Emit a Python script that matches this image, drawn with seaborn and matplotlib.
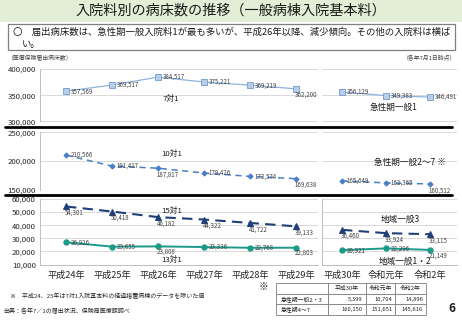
import numpy as np
import pandas as pd
import matplotlib
matplotlib.use("Agg")
import matplotlib.pyplot as plt
import seaborn as sns
from matplotlib.patches import Rectangle
from matplotlib.lines import Line2D

sns.set_theme(style="white")
plt.rcParams['font.family'] = ['Noto Sans CJK JP', 'DejaVu Sans']

# ---------------- data ----------------
years = ["平成24年", "平成25年", "平成26年", "平成27年", "平成28年", "平成29年",
         "平成30年", "令和元年", "令和2年"]
acute1 = [357569, 369517, 384517, 375221, 369219, 362200, 356129, 349383, 346491]
acute27 = [210566, 191417, 187817, 179426, 173574, 169638, 165649, 162365, 160512]
region3 = [54301, 50418, 46182, 44322, 41722, 39133, 36460, 33924, 33115]
region12 = [26926, 23655, 23808, 23336, 22768, 22803, 20921, 22296, 21149]
split = 6  # H24-H29 (old names) | H30-R2 (new names)

top_ticks = [300000, 350000, 400000]
mid_ticks = [150000, 200000, 250000]
bot_ticks = [10000, 20000, 30000, 40000, 50000, 60000]

table_cols = ["", "平成30年", "令和元年", "令和2年"]
table_rows = ["急性期一般2・3", "急性期4～7"]
table_vals = [[5399, 10704, 14896], [160150, 151651, 145616]]

# ---------------- layout helpers ----------------
W, H = 462, 320
fig = plt.figure(figsize=(W / 100, H / 100), dpi=100)


def fbox(x0, y0, x1, y1):
    return [x0 / W, 1 - y1 / H, (x1 - x0) / W, (y1 - y0) / H]


def fx(x):
    return x / W


def fy(y):
    return 1 - y / H


# banner
fig.add_artist(Rectangle((0, fy(22)), 1, 22 / H, transform=fig.transFigure,
                         facecolor="#E2EED6", edgecolor="none", zorder=0))
fig.text(fx(231), fy(11), "入院料別の病床数の推移（一般病棟入院基本料）",
         ha="center", va="center", fontsize=10.2, color="#1a1a1a")

# summary box
fig.add_artist(Rectangle((fx(8), fy(50)), (455 - 8) / W, (50 - 24) / H,
                         transform=fig.transFigure, facecolor="white",
                         edgecolor="#7F7F7F", lw=0.9))
fig.text(fx(13), fy(32), "〇　届出病床数は、急性期一般入院料1が最も多いが、平成26年以降、減少傾向。その他の入院料は横ば",
         ha="left", va="center", fontsize=6.75, color="#1a1a1a")
fig.text(fx(22), fy(44), "い。", ha="left", va="center", fontsize=6.75, color="#1a1a1a")

fig.text(fx(8), fy(58), "（医療保険届出病床数）", ha="left", va="center", fontsize=4.2, color="#404040")
fig.text(fx(456), fy(58), "（各年7月1日時点）", ha="right", va="center", fontsize=4.2, color="#404040")

# ---------------- axes ----------------
row_px = [(69, 121.5), (132.3, 190), (199, 264.5)]
row_ticks = [top_ticks, mid_ticks, bot_ticks]
left_xlim = (-0.565, 5.478)
right_xlim = (5.545, 8.614)

axes = []
for r, ((y0, y1), ticks) in enumerate(zip(row_px, row_ticks)):
    axL = fig.add_axes(fbox(40, y0, 318, y1))
    axR = fig.add_axes(fbox(322, y0, 457, y1))
    for ax, xl in ((axL, left_xlim), (axR, right_xlim)):
        ax.set_xlim(*xl)
        ax.set_ylim(ticks[0], ticks[-1])
        ax.set_yticks(ticks)
        ax.grid(axis="y", color="#D9D9D9", lw=0.7)
        ax.grid(axis="x", visible=False)
        ax.set_facecolor("none")
        for s in ("top", "right"):
            ax.spines[s].set_visible(False)
        ax.spines["left"].set_color("#BFBFBF")
        ax.spines["left"].set_linewidth(0.7)
        ax.spines["bottom"].set_visible(r == 2)
        ax.spines["bottom"].set_color("#BFBFBF")
        ax.spines["bottom"].set_linewidth(0.7)
        ax.tick_params(length=0)
    axL.set_yticklabels([f"{t:,}" for t in ticks], fontsize=5.6, color="#262626")
    axL.tick_params(axis="y", pad=3)
    axR.set_yticklabels([])
    if r != 2:
        axR.spines["left"].set_visible(False)
    axes.append((axL, axR))

# ---------------- series ----------------
series = [
    dict(vals=acute1, row=0, color="#8DB3E2",
         kw=dict(marker="s", markersize=4.5, markerfacecolor="#B9CDE5",
                 markeredgecolor="#6E9BD1", markeredgewidth=0.6, lw=0.9, linestyle="-"),
         below=[5], boff=(-1, -4.5)),
    dict(vals=acute27, row=1, color="#4A7EC6",
         kw=dict(marker="D", markersize=2.6, markerfacecolor="#4A7EC6",
                 markeredgecolor="#4A7EC6", lw=1.1, linestyle=(0, (4, 3))),
         below=[2, 5, 8], boff=(-1, -4.5)),
    dict(vals=region3, row=2, color="#1F3F78",
         kw=dict(marker="^", markersize=4, markerfacecolor="#1F3F78",
                 markeredgecolor="#1F3F78", lw=1.5, linestyle=(0, (5, 3))),
         below=list(range(9)), boff=(-1, -4.5)),
    dict(vals=region12, row=2, color="#1B9A8A",
         kw=dict(marker="o", markersize=3.8, markerfacecolor="#1B9A8A",
                 markeredgecolor="#1B9A8A", lw=1.4, linestyle="-"),
         below=[2, 5, 8], boff=(-1, -3.8)),
]

for s in series:
    df = pd.DataFrame({"idx": np.arange(len(years)), "value": s["vals"]})
    axL, axR = axes[s["row"]]
    for ax, sub in ((axL, df.iloc[:split]), (axR, df.iloc[split:])):
        sns.lineplot(data=sub, x="idx", y="value", ax=ax, color=s["color"],
                     legend=False, **s["kw"])
        ax.set_xlabel("")
        ax.set_ylabel("")
        for i, v in zip(sub["idx"], sub["value"]):
            off = s["boff"] if i in s["below"] else (3.2, 0)
            ax.annotate(f"{v:,}", (i, v), xytext=off, textcoords="offset points",
                        ha="left", va="center", fontsize=4.4, color="#404040")

# ticks after seaborn
for r, (axL, axR) in enumerate(axes):
    axL.set_xlim(*left_xlim)
    axR.set_xlim(*right_xlim)
    if r == 2:
        axL.set_xticks(range(split))
        axL.set_xticklabels(years[:split], fontsize=6.6, color="#262626")
        axR.set_xticks(range(split, len(years)))
        axR.set_xticklabels(years[split:], fontsize=6.6, color="#262626")
        axL.tick_params(axis="x", pad=4.5)
        axR.tick_params(axis="x", pad=4.5)
    else:
        axL.set_xticks([])
        axR.set_xticks([])

# series name labels
lab = dict(ha="center", va="center", color="#1a1a1a")
axes[0][0].text(2.28, 343000, "7対1", fontsize=5.6, **lab)
axes[0][1].text(7.18, 326000, "急性期一般1", fontsize=6.2, **lab)
axes[1][0].text(2.3, 212600, "10対1", fontsize=5.6, **lab)
axes[1][1].text(7.55, 197800, "急性期一般2～7 ※", fontsize=6.2, **lab)
axes[2][0].text(2.3, 51000, "15対1", fontsize=5.6, **lab)
axes[2][0].text(2.3, 13600, "13対1", fontsize=5.6, **lab)
axes[2][1].text(7.32, 44700, "地域一般3", fontsize=6.2, **lab)
axes[2][1].text(7.43, 12500, "地域一般1・2", fontsize=6.2, **lab)

# thick separators
for yy in (126.5, 194.5):
    fig.add_artist(Line2D([fx(5), fx(452)], [fy(yy), fy(yy)], transform=fig.transFigure,
                          color="black", lw=2))

# ---------------- notes & table ----------------
fig.text(fx(10), fy(296), "※　平成24、25年は7対1入院基本料の経過措置病棟のデータを除いた値",
         ha="left", va="center", fontsize=4.3, color="#262626")
fig.text(fx(3), fy(311), "出典：各年7／1の届出状況、保険局医療課調べ",
         ha="left", va="center", fontsize=4.3, color="#262626")
fig.text(fx(264), fy(287), "※", ha="center", va="center", fontsize=7, color="#262626")
fig.text(fx(452), fy(308), "6", ha="center", va="center", fontsize=8.5,
         fontweight="bold", color="#1a1a1a")

tax = fig.add_axes(fbox(276, 283, 426, 315))
tax.axis("off")
cell_text = [table_cols[1:]] + [[f"{v:,}" for v in row] for row in table_vals]
row_labels = [""] + table_rows
full = [[rl] + row for rl, row in zip(row_labels, cell_text)]
tbl = tax.table(cellText=full, bbox=[0, 0, 1, 1],
                colWidths=[52, 38, 29, 31], cellLoc="right")
tbl.auto_set_font_size(False)
tbl.set_fontsize(4.2)
for (ri, ci), cell in tbl.get_celld().items():
    cell.set_edgecolor("#7F7F7F")
    cell.set_linewidth(0.6)
    cell.get_text().set_color("#262626")
    if ri == 0:
        cell.get_text().set_ha("center")
        cell._loc = "center"
    elif ci == 0:
        cell._loc = "left"
        cell.get_text().set_ha("left")

fig.savefig("out.png", dpi=100)
